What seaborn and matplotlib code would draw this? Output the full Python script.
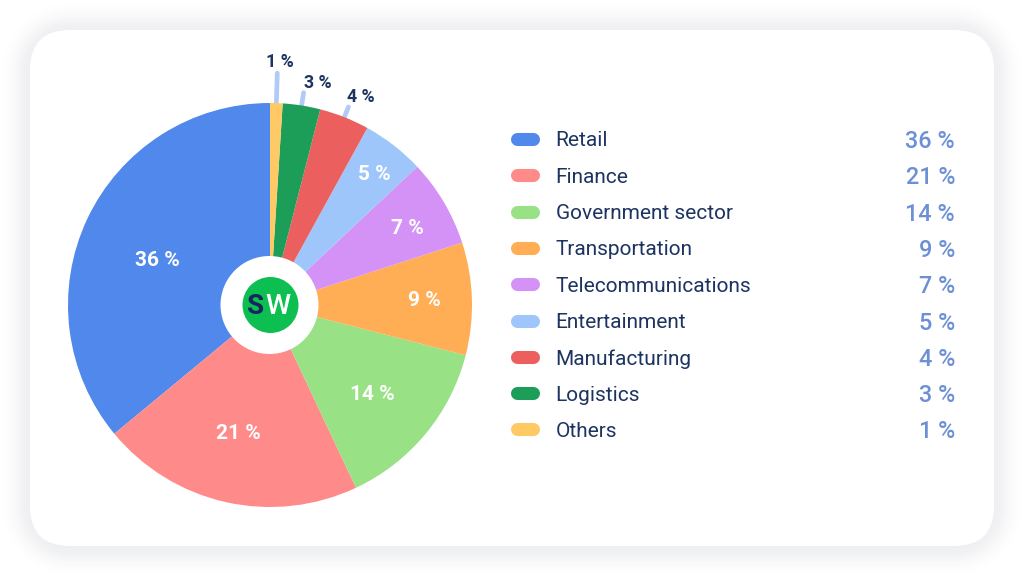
import numpy as np
import matplotlib
matplotlib.use("Agg")
import matplotlib.pyplot as plt
from matplotlib.patches import FancyBboxPatch, Circle
import seaborn as sns

# ---- data ----
categories = ["Retail", "Finance", "Government sector", "Transportation",
              "Telecommunications", "Entertainment", "Manufacturing",
              "Logistics", "Others"]
values = [36, 21, 14, 9, 7, 5, 4, 3, 1]
colors = ["#5088EC", "#FF8A8A", "#98E184", "#FFAE55", "#D592F6",
          "#9FC6FA", "#EC5F5F", "#1C9E58", "#FFC965"]

# ---- layout (pixels) ----
W, H = 1024, 577
CX, CY, R = 270, 305, 202
inner_label_r = [121, 131, 135, 154, 158, 169]
inner_nudge = [(-3, -7), (-3, -1), (-2, -3), (0, 0), (1, -4), (1, -3)]
leader_r = {6: 213, 7: 215, 8: 232}
outer_offset = {6: (12, 10), 7: (14, 10), 8: (3, 11)}
NAVY = "#1D3461"
VALUE = "#6D8FD6"
LEADER = "#B2CBF6"

sns.set_theme(style="white")
plt.rcParams["font.family"] = ["Roboto", "DejaVu Sans"]

fig = plt.figure(figsize=(W / 100, H / 100), dpi=100, facecolor="white")
ax = fig.add_axes([0, 0, 1, 1])
ax.set_axis_off()

Y = lambda y: H - y

# card shadow
xx, yy = np.meshgrid(np.arange(W) + .5, np.arange(H) + .5)
x0, x1, y0, y1, rad = 30, 994, 30, 546, 40
qx = np.abs(xx - (x0 + x1) / 2) - ((x1 - x0) / 2 - rad)
qy = np.abs(yy - (y0 + y1) / 2) - ((y1 - y0) / 2 - rad)
dist = np.hypot(np.maximum(qx, 0), np.maximum(qy, 0)) + np.minimum(np.maximum(qx, qy), 0) - rad
shade = 0.075 * np.exp(-(np.maximum(dist, 0) / 16) ** 2)
rgba = np.zeros((H, W, 4))
rgba[..., :3] = (0.16, 0.18, 0.30)
rgba[..., 3] = shade
ax.imshow(rgba, extent=(0, W, H, 0), origin="upper", zorder=0, interpolation="bilinear")

# card
ax.add_patch(FancyBboxPatch((x0 + rad, Y(y1) + rad), x1 - x0 - 2 * rad, y1 - y0 - 2 * rad,
                            boxstyle=f"round,pad={rad},rounding_size={rad}",
                            fc="white", ec="none", zorder=1))

# pie
wedges, _ = ax.pie(values, colors=colors, startangle=90, counterclock=True,
                   center=(CX, Y(CY)), radius=R, frame=True,
                   wedgeprops=dict(linewidth=0, zorder=2))
for w in wedges:
    w.set_zorder(2)

for i, (w, v) in enumerate(zip(wedges, values)):
    mid = np.deg2rad((w.theta1 + w.theta2) / 2)
    ux, uy = np.cos(mid), np.sin(mid)
    if i < len(inner_label_r):
        r = inner_label_r[i]
        nx, ny = inner_nudge[i]
        ax.text(CX + r * ux + nx, Y(CY) + r * uy + ny, f"{v} %", color="white", fontsize=15,
                fontweight="bold", ha="center", va="center", zorder=5)
    else:
        r = leader_r[i]
        ax.plot([CX + R * ux, CX + r * ux], [Y(CY) + R * uy, Y(CY) + r * uy],
                color=LEADER, lw=3.4, solid_capstyle="round", zorder=1.5)
        dx, dy = outer_offset[i]
        ax.text(CX + r * ux + dx, Y(CY) + r * uy + dy, f"{v} %", color=NAVY, fontsize=12.8,
                fontweight="bold", ha="center", va="center", zorder=5)

# centre logo
ax.add_patch(Circle((CX - .5, Y(CY)), 49, fc="white", ec="none", zorder=3))
ax.add_patch(Circle((CX + .5, Y(CY)), 28, fc="#0CBF50", ec="none", zorder=4))
ax.text(CX - 14.5, Y(CY) - 1, "S", color="#17275E", fontsize=20, fontweight="bold",
        ha="center", va="center", zorder=5)
ax.text(CX + 7.5, Y(CY) - 1, "W", color="white", fontsize=20.5, fontweight="medium",
        ha="center", va="center", zorder=6)

# legend
row0, step = 139, 36.3
for i, (c, v, col) in enumerate(zip(categories, values, colors)):
    y = Y(row0 + i * step)
    ax.plot([517, 533], [y, y], color=col, lw=9.4, solid_capstyle="round", zorder=3)
    ax.text(555.5, y, c, color=NAVY, fontsize=15, ha="left", va="center_baseline", zorder=3)
    ax.text(955, y, f"{v} %", color=VALUE, fontsize=16.8, fontweight="medium",
            ha="right", va="center_baseline", zorder=3)

ax.set_aspect("equal")
ax.set_xlim(0, W)
ax.set_ylim(0, H)
ax.set_axis_off()
fig.savefig("out.png", dpi=100, facecolor="white")
